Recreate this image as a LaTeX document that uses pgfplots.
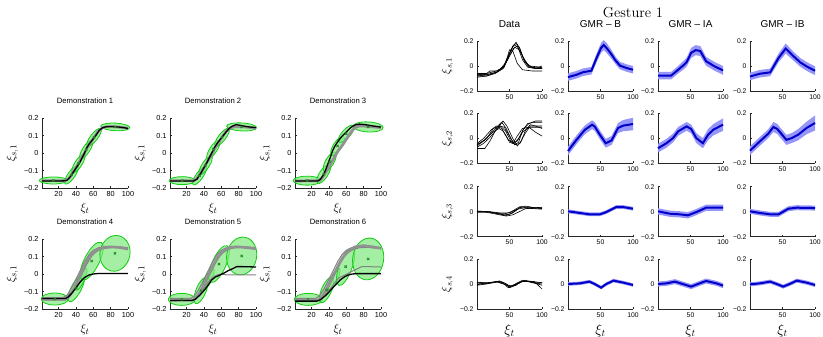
\documentclass[border=0pt]{standalone}
\usepackage{fontspec}
\setsansfont{Liberation Sans}
\usepackage{pgfplots}
\pgfplotsset{compat=1.18}
\usepackage{pgfplotstable}

\definecolor{gfill}{RGB}{125,232,125}
\definecolor{gedge}{RGB}{15,205,15}
\definecolor{gmark}{RGB}{30,140,30}
\definecolor{gthick}{RGB}{145,145,145}
\definecolor{gthin}{RGB}{130,130,130}
\definecolor{bandc}{RGB}{150,150,250}
\definecolor{linec}{RGB}{0,0,200}

\tikzset{gauss/.style={draw=gedge, fill=gfill, fill opacity=0.7, line width=0.8pt}}
\newcommand{\gel}[5]{\draw[gauss, rotate around={#5:(axis cs:#1,#2)}] (axis cs:#1,#2) ellipse [x radius=#3pt, y radius=#4pt];}

\pgfplotsset{
  mat/.style={scale only axis, anchor=south west, axis lines=left,
    axis line style={-, black!85, line width=0.4pt},
    x axis line style={-}, y axis line style={-},
    tick style={black!85, line width=0.4pt}, tick align=inside,
    major tick length=2pt, clip=false,
    /pgf/number format/assume math mode=true},
  demo/.style={mat, width=86pt, height=70pt, xmin=1, xmax=100, ymin=-0.2, ymax=0.2,
    xtick={20,40,60,80,100}, ytick={-0.2,-0.1,0,0.1,0.2},
    yticklabels={−0.2,−0.1,0,0.1,0.2},
    tick label style={font=\sffamily\fontsize{7.3}{8}\selectfont},
    xlabel={$\xi_t$}, ylabel={$\xi_{s,1}$},
    xlabel style={font=\fontsize{12.5}{13}\selectfont, yshift=0pt},
    ylabel style={font=\fontsize{13}{14}\selectfont, yshift=-1pt},
    title style={font=\sffamily\fontsize{7.7}{8}\selectfont, yshift=5pt}},
  ges/.style={mat, width=65pt, height=50pt, xmin=0, xmax=100, ymin=-0.2, ymax=0.2,
    xtick={50,100}, ytick={-0.2,0,0.2}, yticklabels={−0.2,0,0.2},
    tick label style={font=\sffamily\fontsize{6.8}{7}\selectfont},
    xlabel style={font=\fontsize{14}{15}\selectfont},
    ylabel style={font=\fontsize{12}{13}\selectfont},
    title style={font=\sffamily\fontsize{10}{11}\selectfont, yshift=4pt}},
  blk/.style={black, line width=1.3pt},
  thk/.style={gthick, line width=2.7pt},
  thn/.style={gthin, line width=1pt},
  dat/.style={black, line width=0.6pt},
  mk/.style={only marks, mark=x, mark size=1.6pt, gmark, line width=0.8pt}
}

\newcommand{\gmr}[1]{%
  \addplot[draw=none, stack plots=y, forget plot] table[x=x, y expr=\thisrow{m}-\thisrow{s}] {#1};
  \addplot[fill=bandc, draw=none, stack plots=y, forget plot] table[x=x, y expr=2*\thisrow{s}] {#1} \closedcycle;
  \addplot[linec, line width=2pt, stack plots=false] table[x=x, y=m] {#1};
}

% GMR tables: x, mean, half-width of band
\pgfplotstableread[row sep=\\]{x m s\\ 0 -0.089 0.03\\ 13 -0.07 0.03\\ 23 -0.05 0.03\\ 36 -0.038 0.03\\ 44 0.065 0.035\\ 51 0.146 0.04\\ 55 0.168 0.04\\ 60 0.14 0.04\\ 67 0.092 0.035\\ 73 0.045 0.03\\ 80 0.003 0.03\\ 90 -0.016 0.03\\ 100 -0.03 0.03\\}\tBa
\pgfplotstableread[row sep=\\]{x m s\\ 0 -0.078 0.03\\ 20 -0.078 0.03\\ 31 -0.03 0.03\\ 40 0.01 0.035\\ 44 0.03 0.035\\ 51 0.105 0.04\\ 58 0.127 0.04\\ 65 0.12 0.04\\ 74 0.038 0.035\\ 87 -0.003 0.035\\ 100 -0.035 0.035\\}\tIAa
\pgfplotstableread[row sep=\\]{x m s\\ 0 -0.084 0.03\\ 15 -0.062 0.03\\ 31 -0.051 0.03\\ 44 0.065 0.035\\ 55 0.14 0.04\\ 67 0.078 0.035\\ 77 0.03 0.035\\ 87 -0.003 0.035\\ 100 -0.038 0.035\\}\tIBa
\pgfplotstableread[row sep=\\]{x m s\\ 0 -0.1 0.035\\ 13 -0.011 0.035\\ 26 0.07 0.035\\ 37 0.11 0.035\\ 41 0.097 0.035\\ 49 0.03 0.035\\ 58 -0.038 0.035\\ 67 -0.016 0.035\\ 77 0.084 0.04\\ 85 0.103 0.045\\ 100 0.116 0.05\\}\tBb
\pgfplotstableread[row sep=\\]{x m s\\ 0 -0.078 0.035\\ 13 -0.038 0.035\\ 23 0.003 0.035\\ 31 0.057 0.035\\ 44 0.097 0.035\\ 51 0.076 0.035\\ 59 0.003 0.04\\ 69 -0.038 0.04\\ 77 0.03 0.045\\ 85 0.07 0.045\\ 100 0.111 0.05\\}\tIAb
\pgfplotstableread[row sep=\\]{x m s\\ 0 -0.097 0.035\\ 15 -0.024 0.035\\ 28 0.038 0.035\\ 36 0.092 0.04\\ 42 0.076 0.04\\ 56 -0.011 0.04\\ 64 0.003 0.04\\ 74 0.03 0.045\\ 87 0.084 0.05\\ 100 0.124 0.06\\}\tIBb
\pgfplotstableread[row sep=\\]{x m s\\ 0 0.003 0.015\\ 18 -0.01 0.015\\ 33 -0.021 0.015\\ 49 -0.021 0.015\\ 59 -0.003 0.015\\ 74 0.037 0.015\\ 85 0.037 0.015\\ 100 0.024 0.015\\}\tBc
\pgfplotstableread[row sep=\\]{x m s\\ 0 0.003 0.025\\ 18 -0.016 0.025\\ 33 -0.021 0.025\\ 46 -0.029 0.025\\ 59 -0.003 0.025\\ 74 0.032 0.025\\ 100 0.032 0.025\\}\tIAc
\pgfplotstableread[row sep=\\]{x m s\\ 0 0.003 0.02\\ 15 -0.01 0.02\\ 31 -0.021 0.02\\ 44 -0.021 0.02\\ 59 0.024 0.02\\ 72 0.032 0.02\\ 100 0.029 0.02\\}\tIBc
\pgfplotstableread[row sep=\\]{x m s\\ 0 0 0.014\\ 18 0.005 0.014\\ 33 0.019 0.014\\ 41 0 0.014\\ 51 -0.029 0.014\\ 59 0 0.014\\ 70 0.027 0.014\\ 85 0.011 0.014\\ 100 -0.008 0.014\\}\tBd
\pgfplotstableread[row sep=\\]{x m s\\ 0 0 0.02\\ 13 0.005 0.02\\ 26 0.019 0.02\\ 38 0 0.02\\ 51 -0.021 0.02\\ 64 0.005 0.02\\ 74 0.024 0.02\\ 90 0.005 0.02\\ 100 -0.013 0.02\\}\tIAd
\pgfplotstableread[row sep=\\]{x m s\\ 0 -0.003 0.016\\ 15 0.005 0.016\\ 31 0.019 0.016\\ 41 0 0.016\\ 51 -0.021 0.016\\ 61 0 0.016\\ 72 0.027 0.016\\ 87 0.011 0.016\\ 100 -0.008 0.016\\}\tIBd

\begin{document}
\begin{tikzpicture}
\useasboundingbox (0pt,0pt) rectangle (823pt,337pt);

% ================= LEFT: demonstrations =================
\begin{axis}[demo, at={(42pt,149pt)}, title={Demonstration 1}]
  \gel{14}{-0.157}{14}{3.5}{0}
  \gel{35}{-0.125}{11}{3.6}{55}
  \gel{43}{-0.06}{11}{3.6}{57}
  \gel{52}{0.02}{11}{3.6}{57}
  \gel{61}{0.09}{11}{3.6}{52}
  \gel{85.4}{0.149}{14.5}{3.8}{-3}
  \addplot[mk] coordinates {(14,-0.157) (35,-0.125) (43,-0.06) (52,0.02) (61,0.09) (85.4,0.149)};
  \addplot[thk] coordinates {(1,-0.158) (28,-0.158) (32,-0.145) (36,-0.115) (40,-0.085) (44,-0.05) (48,-0.015) (50,0) (53,0.03) (57,0.06) (61,0.09) (65,0.12) (70,0.142) (75,0.15) (85,0.15) (100,0.142)};
  \addplot[blk] coordinates {(1,-0.16) (20,-0.16) (27,-0.159) (30,-0.155) (33,-0.14) (37,-0.11) (41,-0.08) (45,-0.05) (48,-0.02) (50,0) (52,0.025) (55,0.05) (59,0.075) (63,0.1) (67,0.13) (71,0.145) (75,0.15) (80,0.152) (85,0.15) (90,0.148) (95,0.145) (100,0.14)};
\end{axis}

\begin{axis}[demo, at={(170pt,149pt)}, title={Demonstration 2}]
  \gel{15}{-0.158}{13}{4}{0}
  \gel{35}{-0.13}{11}{3.6}{55}
  \gel{42}{-0.07}{11}{3.6}{57}
  \gel{51}{0.02}{11}{3.6}{57}
  \gel{61}{0.09}{11}{3.6}{52}
  \gel{83.4}{0.149}{15}{4}{-3}
  \addplot[mk] coordinates {(15,-0.158) (35,-0.13) (42,-0.07) (51,0.02) (61,0.09) (83.4,0.149)};
  \addplot[thk] coordinates {(1,-0.158) (28,-0.158) (32,-0.145) (36,-0.115) (40,-0.085) (44,-0.05) (48,-0.015) (50,0) (53,0.03) (57,0.06) (61,0.09) (65,0.12) (70,0.142) (75,0.15) (85,0.15) (100,0.142)};
  \addplot[blk] coordinates {(1,-0.16) (28,-0.16) (32,-0.15) (36,-0.12) (40,-0.085) (44,-0.05) (47,-0.02) (49,0) (52,0.03) (56,0.06) (60,0.085) (64,0.11) (68,0.135) (72,0.152) (77,0.162) (82,0.158) (90,0.15) (100,0.145)};
\end{axis}

\begin{axis}[demo, at={(295pt,149pt)}, title={Demonstration 3}]
  \gel{15}{-0.158}{14}{4.5}{0}
  \gel{34}{-0.12}{11}{4.2}{57}
  \gel{41}{-0.05}{11}{4.2}{60}
  \gel{50}{0.04}{11}{4.2}{57}
  \gel{60}{0.11}{11}{4.2}{48}
  \gel{85.2}{0.149}{15}{5}{-3}
  \addplot[mk] coordinates {(15,-0.158) (34,-0.12) (41,-0.05) (50,0.04) (60,0.11) (85.2,0.149)};
  \addplot[thk] coordinates {(1,-0.16) (28,-0.158) (32,-0.145) (36,-0.115) (40,-0.08) (44,-0.045) (48,-0.01) (51,0.015) (55,0.04) (59,0.07) (63,0.1) (67,0.13) (71,0.148) (76,0.155) (85,0.152) (100,0.145)};
  \addplot[blk] coordinates {(1,-0.16) (27,-0.16) (30,-0.152) (33,-0.13) (36,-0.1) (39,-0.06) (42,-0.02) (44,0.01) (47,0.04) (51,0.07) (55,0.095) (60,0.12) (65,0.145) (70,0.16) (75,0.165) (82,0.162) (90,0.155) (100,0.148)};
\end{axis}

\begin{axis}[demo, at={(42pt,28pt)}, title={Demonstration 4}]
  \gel{15.6}{-0.143}{13.5}{6}{0}
  \gel{40.5}{-0.082}{15}{5}{62}
  \gel{46}{-0.03}{12}{3.5}{65}
  \gel{58.2}{0.074}{21}{7.5}{63}
  \gel{85}{0.118}{15}{18}{-12}
  \addplot[mk] coordinates {(15.6,-0.143) (40.5,-0.082) (58.2,0.074) (85,0.118)};
  \addplot[thn] coordinates {(1,-0.15) (28,-0.15) (33,-0.13) (38,-0.09) (43,-0.04) (48,0.01) (53,0.06) (58,0.1) (63,0.125) (68,0.14) (75,0.15) (85,0.152) (100,0.145)};
  \addplot[thn] coordinates {(1,-0.135) (25,-0.135) (30,-0.12) (35,-0.08) (40,-0.03) (45,0.02) (50,0.07) (55,0.11) (60,0.135) (66,0.15) (75,0.158) (90,0.155) (100,0.15)};
  \addplot[thk] coordinates {(1,-0.143) (20,-0.143) (28,-0.14) (32,-0.125) (36,-0.1) (40,-0.06) (44,-0.02) (48,0.03) (52,0.07) (56,0.1) (60,0.12) (65,0.138) (70,0.148) (80,0.155) (90,0.152) (100,0.143)};
  \addplot[blk] coordinates {(1,-0.14) (28,-0.14) (31,-0.132) (35,-0.112) (40,-0.08) (45,-0.045) (50,-0.02) (55,-0.006) (60,0) (66,0.003) (100,0.003)};
\end{axis}

\begin{axis}[demo, at={(170pt,28pt)}, title={Demonstration 5}]
  \gel{14.5}{-0.145}{13.5}{6}{0}
  \gel{36.7}{-0.095}{14}{5}{68}
  \gel{45}{-0.03}{12}{3.5}{65}
  \gel{57.4}{0.057}{20}{7}{66}
  \gel{83.5}{0.103}{15}{19}{-10}
  \addplot[mk] coordinates {(14.5,-0.145) (36.7,-0.095) (57.4,0.057) (83.5,0.103)};
  \addplot[thn] coordinates {(1,-0.145) (28,-0.145) (35,-0.115) (40,-0.08) (45,-0.045) (50,-0.02) (55,-0.006) (60,0) (66,-0.005) (100,-0.005)};
  \addplot[thn] coordinates {(1,-0.15) (28,-0.15) (33,-0.13) (38,-0.09) (43,-0.04) (48,0.01) (53,0.06) (58,0.1) (63,0.125) (68,0.14) (75,0.15) (85,0.152) (100,0.145)};
  \addplot[thn] coordinates {(1,-0.14) (25,-0.14) (30,-0.12) (35,-0.08) (40,-0.03) (45,0.02) (50,0.07) (55,0.11) (60,0.135) (66,0.15) (75,0.158) (90,0.155) (100,0.15)};
  \addplot[thk] coordinates {(1,-0.15) (28,-0.148) (32,-0.13) (36,-0.1) (40,-0.06) (44,-0.02) (48,0.02) (52,0.06) (56,0.095) (60,0.12) (65,0.14) (70,0.152) (80,0.155) (90,0.15) (100,0.145)};
  \addplot[blk] coordinates {(1,-0.152) (26,-0.152) (30,-0.145) (35.5,-0.12) (40,-0.095) (43,-0.076) (49,-0.034) (53,-0.018) (58.5,-0.006) (63,0.005) (68,0.019) (73,0.03) (77.7,0.042) (85,0.042) (100,0.04)};
\end{axis}

\begin{axis}[demo, at={(295pt,28pt)}, title={Demonstration 6}]
  \gel{16.3}{-0.145}{14}{6}{0}
  \gel{37.4}{-0.091}{14}{5}{66}
  \gel{46}{-0.03}{12}{3.5}{65}
  \gel{59.3}{0.042}{20}{6.5}{70}
  \gel{85.2}{0.086}{15.5}{21}{-8}
  \addplot[mk] coordinates {(16.3,-0.145) (37.4,-0.091) (59.3,0.042) (85.2,0.086)};
  \addplot[thn] coordinates {(1,-0.152) (26,-0.152) (30,-0.145) (35.5,-0.12) (40,-0.095) (43,-0.076) (49,-0.034) (53,-0.018) (58.5,-0.006) (63,0.005) (68,0.019) (73,0.03) (77.7,0.042) (85,0.042) (100,0.04)};
  \addplot[thn] coordinates {(1,-0.15) (28,-0.15) (33,-0.13) (38,-0.09) (43,-0.04) (48,0.01) (53,0.06) (58,0.1) (63,0.125) (68,0.14) (75,0.15) (85,0.152) (100,0.145)};
  \addplot[thn] coordinates {(1,-0.14) (25,-0.14) (30,-0.12) (35,-0.08) (40,-0.03) (45,0.02) (50,0.07) (55,0.11) (60,0.135) (66,0.15) (75,0.158) (90,0.155) (100,0.15)};
  \addplot[thk] coordinates {(1,-0.15) (28,-0.148) (32,-0.13) (36,-0.1) (40,-0.06) (44,-0.02) (48,0.02) (52,0.06) (56,0.095) (60,0.12) (65,0.14) (70,0.155) (80,0.162) (90,0.155) (100,0.147)};
  \addplot[blk] coordinates {(1,-0.155) (26,-0.155) (30,-0.148) (37,-0.12) (41,-0.098) (45,-0.076) (49,-0.055) (53,-0.034) (58,-0.016) (62,-0.006) (67,0) (72,0.002) (100,0.002)};
\end{axis}

% ================= RIGHT: Gesture 1 =================
\node at (633pt,324pt) {\fontsize{14.5}{16}\selectfont Gesture 1};

% Row 1
\begin{axis}[ges, at={(477pt,246pt)}, title={Data}, ylabel={$\xi_{s,1}$}]
  \addplot[dat] coordinates {(0,-0.06) (15,-0.06) (30,-0.04) (40,-0.01) (50,0.1) (57,0.17) (63,0.15) (70,0.05) (78,-0.01) (90,-0.02) (100,-0.01)};
  \addplot[dat] coordinates {(0,-0.08) (15,-0.07) (30,-0.05) (42,0) (52,0.13) (60,0.19) (66,0.14) (73,0.04) (80,-0.01) (90,-0.02) (100,-0.02)};
  \addplot[dat] coordinates {(0,-0.09) (15,-0.08) (28,-0.06) (40,-0.02) (50,0.08) (58,0.15) (65,0.13) (72,0.06) (80,0) (100,-0.01)};
  \addplot[dat] coordinates {(0,-0.07) (12,-0.07) (20,-0.04) (30,-0.04) (42,-0.01) (50,0.13) (55,0.12) (62,0.02) (70,-0.03) (85,-0.04) (100,-0.04)};
  \addplot[dat] coordinates {(0,-0.07) (15,-0.07) (30,-0.05) (40,-0.02) (48,0.06) (56,0.14) (62,0.16) (68,0.1) (76,0.02) (85,-0.01) (100,-0.02)};
  \addplot[dat] coordinates {(0,-0.08) (15,-0.08) (32,-0.045) (45,0.03) (55,0.16) (60,0.18) (65,0.15) (72,0.05) (80,0) (90,-0.02) (100,0)};
\end{axis}
\begin{axis}[ges, at={(568pt,246pt)}, title={GMR – B}]
  \gmr{\tBa}
\end{axis}
\begin{axis}[ges, at={(658pt,246pt)}, title={GMR – IA}]
  \gmr{\tIAa}
\end{axis}
\begin{axis}[ges, at={(750pt,246pt)}, title={GMR – IB}]
  \gmr{\tIBa}
\end{axis}

% Row 2
\begin{axis}[ges, at={(477pt,173.5pt)}, ylabel={$\xi_{s,2}$}]
  \addplot[dat] coordinates {(0,-0.05) (10,-0.02) (20,0.03) (30,0.09) (38,0.13) (45,0.08) (52,0) (58,-0.05) (64,-0.03) (70,0.06) (78,0.12) (90,0.13) (100,0.13)};
  \addplot[dat] coordinates {(0,-0.07) (10,-0.04) (20,0.01) (30,0.07) (40,0.14) (46,0.1) (55,0) (62,-0.06) (68,-0.02) (75,0.07) (82,0.11) (90,0.1) (100,0.08)};
  \addplot[dat] coordinates {(0,-0.08) (12,-0.08) (20,-0.02) (30,0.08) (36,0.1) (44,0.06) (52,-0.02) (57,-0.04) (64,0) (72,0.08) (80,0.12) (90,0.14) (100,0.14)};
  \addplot[dat] coordinates {(0,-0.04) (10,0) (22,0.07) (30,0.1) (38,0.08) (45,0.02) (50,-0.03) (55,-0.04) (62,0.02) (70,0.08) (80,0.09) (90,0.05) (100,0.02)};
  \addplot[dat] coordinates {(0,-0.06) (15,0) (25,0.08) (35,0.1) (42,0.09) (50,0.02) (58,-0.05) (66,-0.04) (74,0.04) (82,0.1) (100,0.1)};
  \addplot[dat] coordinates {(0,-0.05) (12,-0.01) (24,0.05) (34,0.08) (40,0.06) (48,-0.01) (56,-0.04) (62,-0.02) (70,0.05) (80,0.09) (100,0.09)};
\end{axis}
\begin{axis}[ges, at={(568pt,173.5pt)}]
  \gmr{\tBb}
\end{axis}
\begin{axis}[ges, at={(658pt,173.5pt)}]
  \gmr{\tIAb}
\end{axis}
\begin{axis}[ges, at={(750pt,173.5pt)}]
  \gmr{\tIBb}
\end{axis}

% Row 3
\begin{axis}[ges, at={(477pt,100.3pt)}, ylabel={$\xi_{s,3}$}]
  \addplot[dat] coordinates {(0,0) (15,0) (30,-0.01) (42,-0.025) (50,-0.02) (60,0.01) (68,0.04) (80,0.035) (100,0.025)};
  \addplot[dat] coordinates {(0,0.005) (20,-0.005) (35,-0.02) (45,-0.03) (55,-0.01) (65,0.03) (75,0.045) (90,0.03) (100,0.03)};
  \addplot[dat] coordinates {(0,0) (18,0) (32,-0.015) (44,-0.015) (52,-0.005) (62,0.02) (72,0.03) (100,0.02)};
  \addplot[dat] coordinates {(0,-0.005) (15,-0.005) (30,-0.02) (45,-0.035) (55,-0.025) (65,0) (75,0.025) (100,0.03)};
  \addplot[dat] coordinates {(0,0.005) (20,0) (36,-0.01) (48,-0.01) (56,0.01) (66,0.04) (80,0.03) (100,0.035)};
\end{axis}
\begin{axis}[ges, at={(568pt,100.3pt)}]
  \gmr{\tBc}
\end{axis}
\begin{axis}[ges, at={(658pt,100.3pt)}]
  \gmr{\tIAc}
\end{axis}
\begin{axis}[ges, at={(750pt,100.3pt)}]
  \gmr{\tIBc}
\end{axis}

% Row 4
\begin{axis}[ges, at={(477pt,28pt)}, ylabel={$\xi_{s,4}$}, xlabel={$\xi_t$}]
  \addplot[dat] coordinates {(0,0.01) (15,0.01) (32,0.02) (40,0.01) (48,-0.03) (55,-0.01) (70,0.03) (85,0.01) (100,0)};
  \addplot[dat] coordinates {(0,-0.01) (15,0) (30,0.02) (42,0) (50,-0.02) (58,-0.01) (72,0.025) (88,0.02) (100,-0.04)};
  \addplot[dat] coordinates {(0,0) (20,0.01) (35,0.025) (45,0) (52,-0.02) (62,0) (70,0.02) (85,0.02) (100,0.01)};
  \addplot[dat] coordinates {(0,0.015) (18,0.005) (32,0.015) (46,-0.01) (54,-0.015) (64,0.01) (74,0.03) (90,0.01) (100,0.01)};
  \addplot[dat] coordinates {(0,-0.005) (22,0.01) (34,0.02) (44,0.005) (50,-0.03) (60,-0.01) (68,0.02) (80,0.02) (100,-0.01)};
\end{axis}
\begin{axis}[ges, at={(568pt,28pt)}, xlabel={$\xi_t$}]
  \gmr{\tBd}
\end{axis}
\begin{axis}[ges, at={(658pt,28pt)}, xlabel={$\xi_t$}]
  \gmr{\tIAd}
\end{axis}
\begin{axis}[ges, at={(750pt,28pt)}, xlabel={$\xi_t$}]
  \gmr{\tIBd}
\end{axis}
\end{tikzpicture}
\end{document}
